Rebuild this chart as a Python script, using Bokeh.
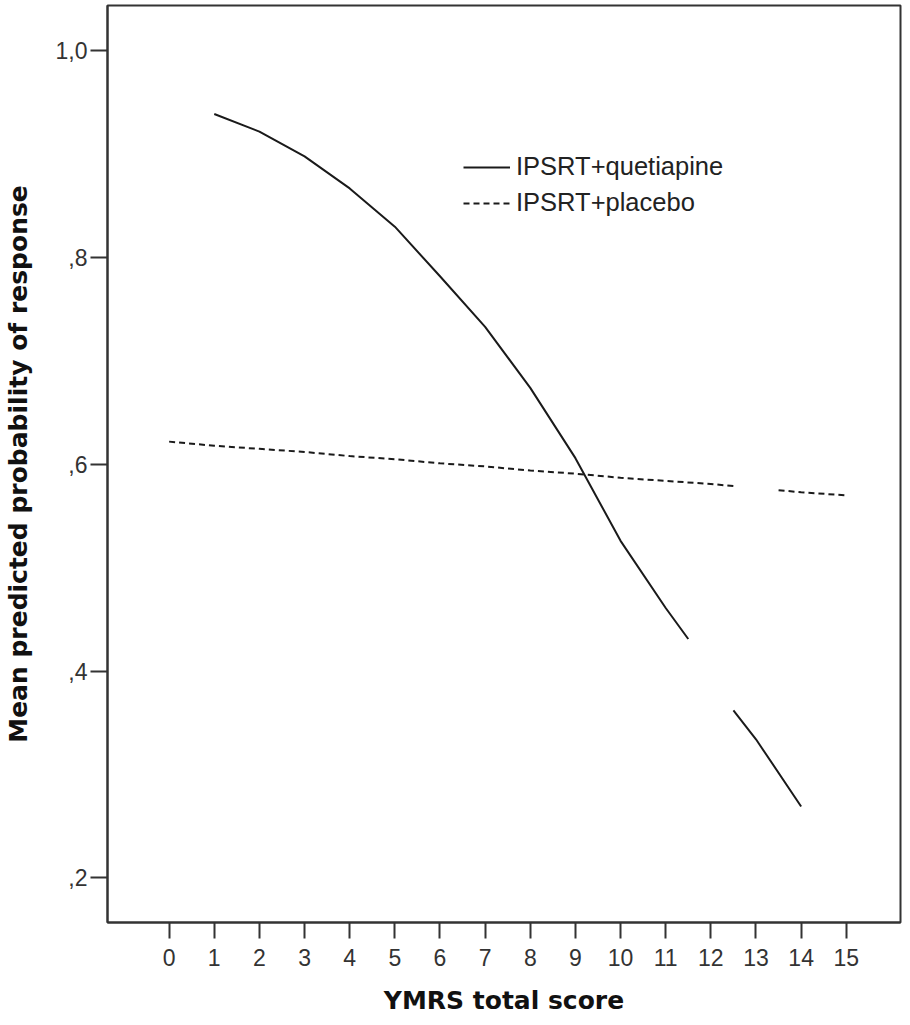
import math
from bokeh.plotting import figure
from bokeh.models import Legend, LegendItem, FixedTicker, Range1d, ColumnDataSource
from bokeh.embed import file_html
from bokeh.resources import INLINE

# --- data ---
quet_x = [1, 2, 3, 4, 5, 6, 7, 8, 9, 10, 11, 11.5, math.nan, 12.5, 13, 14]
quet_y = [0.939, 0.922, 0.898, 0.867, 0.830, 0.782, 0.733, 0.674, 0.606, 0.526,
          0.461, 0.431, math.nan, 0.362, 0.334, 0.269]
plac_x = [0, 1, 2, 3, 4, 5, 6, 7, 8, 9, 10, 11, 12, 12.5, math.nan, 13.5, 14, 15]
plac_y = [0.622, 0.618, 0.615, 0.612, 0.608, 0.605, 0.601, 0.598, 0.594, 0.591,
          0.587, 0.584, 0.581, 0.579, math.nan, 0.575, 0.573, 0.570]
series_names = ["IPSRT+quetiapine", "IPSRT+placebo"]
x_ticks = list(range(0, 16))
y_ticks = [0.2, 0.4, 0.6, 0.8, 1.0]
y_tick_labels = [",2", ",4", ",6", ",8", "1,0"]
x_title = "YMRS total score"
y_title = "Mean predicted probability of response"

p = figure(width=902, height=1017, output_backend="svg", toolbar_location=None,
           x_range=Range1d(-1.365, 16.201), y_range=Range1d(0.1567, 1.044),
           min_border_left=106, min_border_right=2, min_border_top=5, min_border_bottom=91)
p.grid.visible = False
p.background_fill_color = "white"
p.border_fill_color = "white"
p.outline_line_color = "#333333"
p.outline_line_width = 2

src_q = ColumnDataSource(dict(x=quet_x, y=quet_y))
src_p = ColumnDataSource(dict(x=plac_x, y=plac_y))
r1 = p.line("x", "y", source=src_q, line_color="#1a1a1a", line_width=2)
r2 = p.line("x", "y", source=src_p, line_color="#1a1a1a", line_width=2, line_dash="6 4")

for ax in (p.xaxis[0], p.yaxis[0]):
    ax.axis_line_color = "#333333"
    ax.axis_line_width = 2
    ax.major_tick_line_color = "#333333"
    ax.major_tick_line_width = 2
    ax.major_tick_in = 0
    ax.minor_tick_line_color = None
    ax.major_label_text_font = "Liberation Sans"
    ax.major_label_text_font_size = "23px"
    ax.major_label_text_color = "#333333"
    ax.axis_label_text_font = "DejaVu Sans"
    ax.axis_label_text_font_style = "bold"
    ax.axis_label_text_font_size = "25px"
    ax.axis_label_text_color = "#111111"

p.xaxis.ticker = FixedTicker(ticks=x_ticks)
p.xaxis.major_tick_out = 16
p.xaxis.major_label_standoff = 10
p.xaxis.axis_label = x_title
p.xaxis.axis_label_standoff = 17

p.yaxis.ticker = FixedTicker(ticks=y_ticks)
p.yaxis.major_tick_out = 17
p.yaxis.major_label_overrides = {t: l for t, l in zip(y_ticks, y_tick_labels)}
p.yaxis.major_label_standoff = 3
p.yaxis.axis_label = y_title
p.yaxis.axis_label_standoff = 20

legend = Legend(items=[LegendItem(label=series_names[0], renderers=[r1]),
                       LegendItem(label=series_names[1], renderers=[r2])],
                location=(356, 705), padding=0, margin=0, border_line_color=None,
                background_fill_alpha=0, glyph_width=47, glyph_height=20, label_height=20,
                spacing=7, label_standoff=6, label_text_font="Liberation Sans",
                label_text_font_size="25.5px", label_text_color="#222222")
p.add_layout(legend)

open("out.html", "w").write(file_html(p, INLINE))
